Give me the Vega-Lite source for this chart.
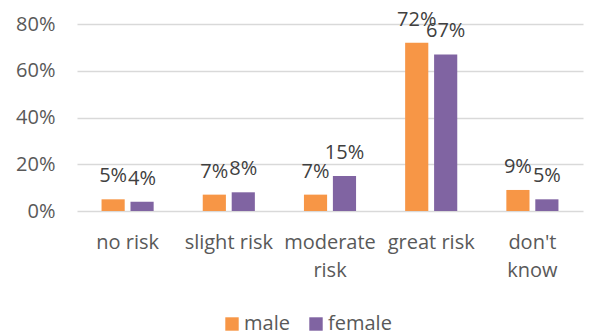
{
  "$schema": "https://vega.github.io/schema/vega-lite/v6.json",
  "width": 506,
  "height": 187,
  "autosize": {"type": "none"},
  "padding": {"left": 77, "top": 24, "right": 16, "bottom": 125},
  "background": "white",
  "config": {
    "view": {"stroke": null},
    "font": "Open Sans"
  },
  "data": {
    "values": [
      {"category": "no risk", "sex": "male", "value": 0.05},
      {"category": "no risk", "sex": "female", "value": 0.04},
      {"category": "slight risk", "sex": "male", "value": 0.07},
      {"category": "slight risk", "sex": "female", "value": 0.08},
      {"category": "moderate risk", "sex": "male", "value": 0.07},
      {"category": "moderate risk", "sex": "female", "value": 0.15},
      {"category": "great risk", "sex": "male", "value": 0.72},
      {"category": "great risk", "sex": "female", "value": 0.67},
      {"category": "don't know", "sex": "male", "value": 0.09},
      {"category": "don't know", "sex": "female", "value": 0.05}
    ]
  },
  "encoding": {
    "x": {
      "field": "category",
      "type": "nominal",
      "sort": ["no risk", "slight risk", "moderate risk", "great risk", "don't know"],
      "scale": {"paddingInner": 0.485, "paddingOuter": 0.2425},
      "axis": {
        "title": null,
        "labelAngle": 0,
        "domain": false,
        "ticks": false,
        "labelFontSize": 20,
        "labelColor": "#595959",
        "labelPadding": 21,
        "labelLineHeight": 28,
        "labelExpr": "datum.label == 'moderate risk' ? ['moderate', 'risk'] : datum.label == \"don't know\" ? [\"don't\", 'know'] : datum.label"
      }
    },
    "xOffset": {
      "field": "sex",
      "type": "nominal",
      "sort": ["male", "female"],
      "scale": {"paddingInner": 0.2}
    },
    "y": {
      "field": "value",
      "type": "quantitative",
      "scale": {"domain": [0, 0.8]},
      "axis": {
        "title": null,
        "format": ".0%",
        "values": [0, 0.2, 0.4, 0.6, 0.8],
        "domain": false,
        "ticks": false,
        "gridColor": "#d9d9d9",
        "gridWidth": 1.5,
        "labelFontSize": 20,
        "labelColor": "#595959",
        "labelPadding": 22
      }
    }
  },
  "layer": [
    {
      "mark": {"type": "bar"},
      "encoding": {
        "color": {
          "field": "sex",
          "type": "nominal",
          "sort": ["male", "female"],
          "scale": {"domain": ["male", "female"], "range": ["#F79646", "#8064A2"]},
          "legend": {
            "title": null,
            "orient": "none",
            "direction": "horizontal",
            "legendX": 145,
            "legendY": 290,
            "symbolType": "square",
            "symbolSize": 180,
            "symbolStrokeWidth": 0,
            "labelFontSize": 20,
            "labelOffset": 2,
            "labelColor": "#595959",
            "columnPadding": 16
          }
        }
      }
    },
    {
      "mark": {"type": "text", "baseline": "alphabetic", "dy": -17, "fontSize": 20, "color": "#404040"},
      "encoding": {
        "text": {"field": "value", "type": "quantitative", "format": ".0%"}
      }
    }
  ]
}
